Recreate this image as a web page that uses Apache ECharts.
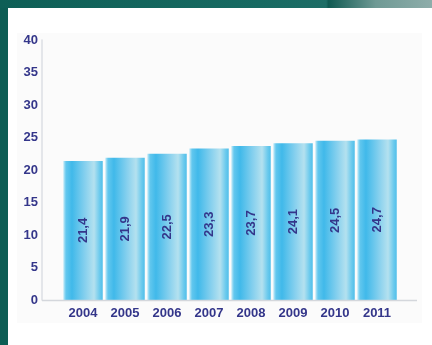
<!DOCTYPE html>
<html>
<head>
<meta charset="utf-8">
<script src="https://cdn.jsdelivr.net/npm/echarts@6/dist/echarts.min.js"></script>
<style>
  html, body { margin: 0; padding: 0; background: #ffffff; }
  #chart { width: 432px; height: 345px; }
</style>
</head>
<body>
<div id="chart"></div>
<script>
// Years and yearly values
const years = ['2004', '2005', '2006', '2007', '2008', '2009', '2010', '2011'];
const values = [21.4, 21.9, 22.5, 23.3, 23.7, 24.1, 24.5, 24.7];
const yTicks = [0, 5, 10, 15, 20, 25, 30, 35, 40];

const navy = '#34368a';

const chart = echarts.init(document.getElementById('chart'), null, { renderer: 'canvas' });

// Cylinder-like horizontal shading for the bars
const barFill = new echarts.graphic.LinearGradient(0, 0, 1, 0, [
  { offset: 0.0, color: '#c8ecf8' },
  { offset: 0.07, color: '#62c7ee' },
  { offset: 0.22, color: '#40b9ea' },
  { offset: 0.55, color: '#86d0ee' },
  { offset: 0.78, color: '#b4e1ef' },
  { offset: 0.92, color: '#6ccaed' },
  { offset: 1.0, color: '#4fbee9' }
]);

chart.setOption({
  animation: false,
  backgroundColor: '#ffffff',
  graphic: [
    // frame: left band and top band
    { type: 'rect', left: 0, top: 0, shape: { width: 8, height: 345 }, style: { fill: '#0d5d54' }, z: 10 },
    {
      type: 'rect', left: 0, top: 0, shape: { width: 432, height: 8 }, z: 10,
      style: {
        fill: new echarts.graphic.LinearGradient(0, 0, 1, 0, [
          { offset: 0.0, color: '#0e5f56' },
          { offset: 0.6, color: '#176a62' },
          { offset: 0.755, color: '#1d6d66' },
          { offset: 0.76, color: '#0f5a52' },
          { offset: 0.87, color: '#6f9a95' },
          { offset: 1.0, color: '#8eadaa' }
        ])
      }
    },
    // faint panel behind the plot
    { type: 'rect', left: 17, top: 33, shape: { width: 405, height: 290 }, style: { fill: '#fbfbfb' }, z: -1 },
    // baseline along the category axis
    { type: 'line', shape: { x1: 42, y1: 300.5, x2: 417, y2: 300.5 }, style: { stroke: '#d4d7dc', lineWidth: 1.5 }, z: 5 }
  ],
  grid: { left: 62, right: 34, top: 40, bottom: 45 },
  xAxis: {
    type: 'category',
    data: years,
    axisLine: { show: false },
    axisTick: { show: false },
    axisLabel: {
      color: navy, fontFamily: 'Liberation Sans', fontWeight: 'bold', fontSize: 13, margin: 7
    }
  },
  yAxis: {
    type: 'value',
    min: 0, max: 40, interval: 5,
    offset: 20,
    axisLine: { show: true, lineStyle: { color: '#dcdfe4', width: 1.5 } },
    axisTick: { show: false },
    splitLine: { show: false },
    axisLabel: {
      color: navy, fontFamily: 'Liberation Sans', fontWeight: 'bold', fontSize: 13, margin: 4,
      formatter: v => (yTicks.includes(v) ? String(v) : '')
    }
  },
  series: [{
    type: 'bar',
    data: values,
    barCategoryGap: '6%',
    itemStyle: { color: barFill },
    label: {
      show: true,
      position: 'inside',
      rotate: 90,
      color: navy,
      fontFamily: 'Liberation Sans',
      fontWeight: 'bold',
      fontSize: 13,
      formatter: p => String(p.value).replace('.', ',')
    }
  }]
});
</script>
</body>
</html>
